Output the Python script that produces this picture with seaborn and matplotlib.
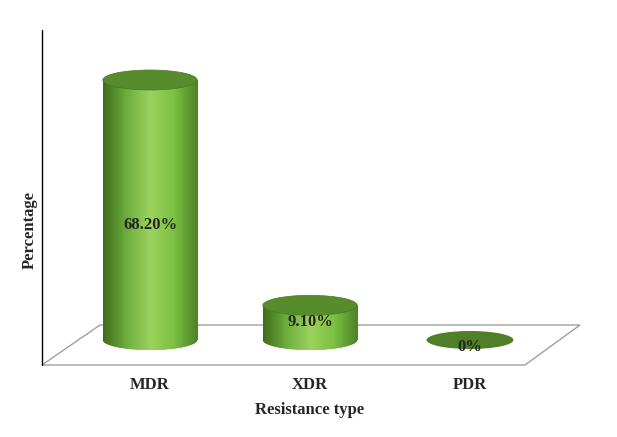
import numpy as np
import matplotlib.pyplot as plt
import seaborn as sns
from matplotlib.patches import Ellipse, Polygon
from matplotlib.colors import LinearSegmentedColormap

categories = ["MDR", "XDR", "PDR"]
values = [68.2, 9.1, 0.0]
value_labels = ["68.20%", "9.10%", "0%"]

sns.set_style("white")
plt.rcParams['font.family'] = ['Liberation Serif', 'DejaVu Serif']

fig = plt.figure(figsize=(6.17, 4.37), dpi=100)
ax = fig.add_axes([0, 0, 1, 1])

# pixel helpers (bar centers 160px apart starting at x=150, zero line at y=340)
PXU = 160.0
PYU = 260.0 / 68.2
def px(x, y):
    return ((x - 150) / PXU, (340 - y) / PYU)

sns.barplot(x=categories, y=values, ax=ax, color="#6fae3c", width=0.59, zorder=3)
ax.set_xlim(px(0, 0)[0], px(617, 0)[0])
ax.set_ylim(px(0, 437)[1], px(0, 0)[1])
ax.axis("off")

# floor and vertical axis
floor = Polygon([px(42, 365), px(525, 365), px(580, 325), px(100, 325)],
                closed=True, facecolor="white", edgecolor="#a0a0a0", lw=1, zorder=1)
ax.add_patch(floor)
ax.plot(*zip(px(42, 30), px(42, 365)), color="black", lw=1, zorder=2)

cmap = LinearSegmentedColormap.from_list("cyl", ["#3f6e1c", "#6fae3c", "#9bd35e", "#7cc043", "#4d8226"])
eh = 20 / PYU
for bar, v in zip(ax.patches, values):
    x0, w = bar.get_x(), bar.get_width()
    cx = x0 + w / 2
    if v > 0:
        bar.set_alpha(0)
        grad = np.linspace(0, 1, 200).reshape(1, -1)
        im = ax.imshow(grad, cmap=cmap, aspect="auto", extent=[x0, x0 + w, 0, v], zorder=3)
        im.set_clip_path(bar)
        ax.add_patch(Ellipse((cx, 0), w, eh, facecolor="#7cc043", edgecolor="none", zorder=2.9))
        bot = Ellipse((cx, 0), w, eh, facecolor="none", edgecolor="none", zorder=3)
        ax.add_patch(bot)
        im2 = ax.imshow(grad, cmap=cmap, aspect="auto", extent=[x0, x0 + w, -eh / 2, 0], zorder=3)
        im2.set_clip_path(bot)
        ax.add_patch(Ellipse((cx, v), w, eh, facecolor="#578c2c", edgecolor="#4a7a24", lw=0.5, zorder=4))
    else:
        ax.add_patch(Ellipse((cx, 0), w * 0.92, 18 / PYU, facecolor="#4f7f27",
                             edgecolor="none", zorder=4))

label_y = [225, 322, 347]
for i, (lab, ly) in enumerate(zip(value_labels, label_y)):
    ax.text(i, px(0, ly)[1], lab, ha="center", va="center", fontsize=12,
            fontweight="bold", zorder=5)

for i, c in enumerate(categories):
    ax.text(i, px(0, 385)[1], c, ha="center", va="center", fontsize=12, fontweight="bold")
ax.text(*px(310, 410), "Resistance type", ha="center", va="center", fontsize=12, fontweight="bold")
ax.text(*px(30, 230), "Percentage", ha="center", va="center", fontsize=12,
        fontweight="bold", rotation=90)

fig.savefig("out.png", dpi=100)
